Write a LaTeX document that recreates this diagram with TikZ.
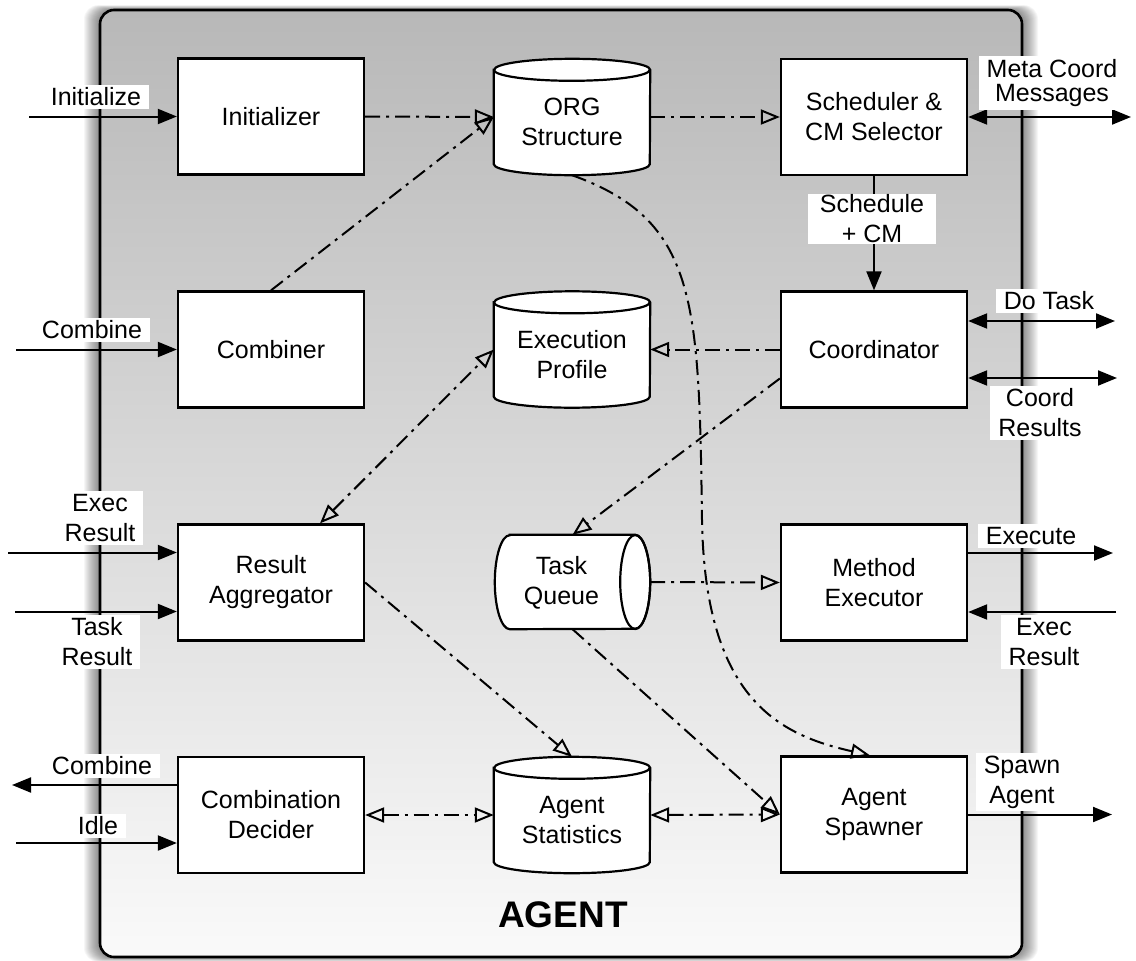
\documentclass[tikz,border=0pt]{standalone}
\usepackage{fontspec}
\setmainfont{Liberation Sans}
\usetikzlibrary{arrows.meta}
\definecolor{panelTop}{RGB}{184,184,184}
\definecolor{panelBot}{RGB}{250,250,250}
\tikzset{
  openhead/.tip={Triangle[open, length=19pt, width=15pt]},
  solidhead/.tip={Triangle[length=19pt, width=15pt]},
}
\newcommand\drawstore[1]{%
  \draw[cyl] ([yshift=-11pt]#1.north west) -- ([yshift=11pt]#1.south west)
    arc[start angle=180, end angle=360, x radius=78pt, y radius=11pt]
    -- ([yshift=-11pt]#1.north east)
    arc[start angle=0, end angle=180, x radius=78pt, y radius=11pt] -- cycle;
  \draw[line width=2.2pt] ([yshift=-11pt]#1.north west)
    arc[start angle=180, end angle=360, x radius=78pt, y radius=11pt];
}
\begin{document}
\begin{tikzpicture}[x=1pt, y=1pt,
  font=\fontsize{25}{30}\selectfont,
  block/.style={draw, fill=white, line width=2.3pt, minimum width=186pt,
    minimum height=116pt, align=center, inner sep=0pt},
  store/.style={minimum width=156pt, minimum height=116pt, inner sep=0pt},
  storetext/.style={align=center, inner sep=0pt},
  cyl/.style={draw, fill=white, line width=2.2pt},
  tag/.style={fill=white, align=center, inner xsep=8pt, inner ysep=3pt},
  flow/.style={line width=2pt, dash pattern=on 15pt off 6pt on 3pt off 6pt},
  sig/.style={line width=2pt},
]
\useasboundingbox (0,0) rectangle (1136,-961);

% soft shadow around the agent panel
\foreach \i in {1,...,16}{
  \fill[black, opacity=0.035, rounded corners=14pt]
    (100-\i,-10+0.3*\i) rectangle (1022+\i,-957-0.3*\i);
}
% agent panel
\draw[line width=2.6pt, rounded corners=14pt, top color=panelTop, bottom color=panelBot]
  (100,-10) rectangle (1022,-957);

% components
\node[block] (init)  at (271,-116.5) {Initializer};
\node[block] (sched) at (874,-117)   {Scheduler \&\\CM Selector};
\node[block] (comb)  at (271,-349.5) {Combiner};
\node[block] (coord) at (874,-349.5) {Coordinator};
\node[block] (ra)    at (271,-582.5) {Result\\Aggregator};
\node[block] (mexec) at (874,-582.5) {Method\\Executor};
\node[block] (cdec)  at (271,-815)   {Combination\\Decider};
\node[block] (spawn) at (874,-814.5) {Agent\\Spawner};

% data stores
\node[store] (org)   at (572,-117)   {};
\node[store] (ep)    at (572,-349.5) {};
\node[store] (stats) at (572,-815)   {};
\drawstore{org}
\drawstore{ep}
\drawstore{stats}
\node[storetext] (orgt)   at ([yshift=-5pt]org.center)   {ORG\\Structure};
\node[storetext] (ept)    at ([yshift=-5pt]ep.center)    {Execution\\Profile};
\node[storetext] (statst) at ([yshift=-5pt]stats.center) {Agent\\Statistics};

% task queue (horizontal store)
\node[minimum width=155pt, minimum height=94pt, inner sep=0pt] (tq) at (572.5,-582) {};
\draw[cyl] ([xshift=15pt]tq.north west) -- ([xshift=-15pt]tq.north east)
  arc[start angle=90, end angle=-90, x radius=15pt, y radius=47pt]
  -- ([xshift=15pt]tq.south west)
  arc[start angle=270, end angle=90, x radius=15pt, y radius=47pt] -- cycle;
\draw[line width=2.2pt] ([xshift=-15pt]tq.east) ellipse [x radius=15pt, y radius=47pt];
\node[storetext] (tqt) at ([xshift=-11pt,yshift=-1pt]tq.center) {Task\\Queue};

% internal data flows
\coordinate (bend) at (702,-520);
\draw[flow, -openhead] (init.east) -- (org.west);
\draw[flow, -openhead] (comb.north) -- (org.west);
\draw[flow, -openhead] (org.east) -- (sched.west);
\draw[flow, -openhead] (coord.west) -- (ep.east);
\draw[flow, openhead-openhead] ([xshift=49pt]ra.north) -- (ep.west);
\draw[flow, -openhead] ([yshift=-29pt]coord.west) -- (tq.north);
\draw[flow, -openhead] (tq.east) -- (mexec.west);
\draw[flow, -openhead] (org.south) .. controls (697,-220) and (699,-300) .. (bend)
  .. controls (705,-700) and (780,-735) .. ([xshift=-4pt]spawn.north);
\draw[flow, -openhead] (ra.east) -- (stats.north);
\draw[flow, -openhead] (tq.south) -- (spawn.west);
\draw[flow, openhead-openhead] (cdec.east) -- (stats.west);
\draw[flow, openhead-openhead] (stats.east) -- (spawn.west);

% control link
\draw[sig, -solidhead] (sched.south) -- (coord.north);
\node[tag, inner xsep=12pt, inner ysep=1pt] (lsched) at (872,-219) {Schedule\\+ CM};

% external interface: free ends
\coordinate (initsrc)  at (29,-116.5);
\coordinate (combsrc)  at (16,-349.5);
\coordinate (exsrc)    at (8,-552.5);
\coordinate (trsrc)    at (15,-611.5);
\coordinate (cobdst)   at (12,-785);
\coordinate (idlesrc)  at (16,-843);
\coordinate (metaend)  at (1131,-117);
\coordinate (doend)    at (1115,-321);
\coordinate (crend)    at (1117,-378);
\coordinate (exedst)   at (1113,-553);
\coordinate (exrsrc)   at (1116,-612);
\coordinate (spdst)    at (1112,-814.5);

\draw[sig, -solidhead] (initsrc) -- (init.west);
\draw[sig, -solidhead] (combsrc) -- (comb.west);
\draw[sig, -solidhead] (exsrc) -- ([yshift=30pt]ra.west);
\draw[sig, -solidhead] (trsrc) -- ([yshift=-29pt]ra.west);
\draw[sig, -solidhead] ([yshift=30pt]cdec.west) -- (cobdst);
\draw[sig, -solidhead] (idlesrc) -- ([yshift=-28pt]cdec.west);
\draw[sig, solidhead-solidhead] (sched.east) -- (metaend);
\draw[sig, solidhead-solidhead] ([yshift=28.5pt]coord.east) -- (doend);
\draw[sig, solidhead-solidhead] ([yshift=-28.5pt]coord.east) -- (crend);
\draw[sig, -solidhead] ([yshift=29.5pt]mexec.east) -- (exedst);
\draw[sig, -solidhead] (exrsrc) -- ([yshift=-29.5pt]mexec.east);
\draw[sig, -solidhead] (spawn.east) -- (spdst);

% interface labels
\node[tag] (linit)  at (96,-97)    {Initialize};
\node[tag] (lcomb)  at (92,-330)   {Combine};
\node[tag] (lexl)   at (100,-518)  {Exec\\Result};
\node[tag] (ltr)    at (97,-642)   {Task\\Result};
\node[tag] (lcout)  at (102,-766)  {Combine};
\node[tag] (lidle)  at (98,-826)   {Idle};
\node[tag, font=\fontsize{25}{24}\selectfont] (lmeta) at (1052,-83) {Meta Coord\\Messages};
\node[tag] (ldo)    at (1049,-301) {Do Task};
\node[tag] (lcr)    at (1040,-413) {Coord\\Results};
\node[tag] (lexe)   at (1031,-536) {Execute};
\node[tag] (lexr)   at (1044,-642) {Exec\\Result};
\node[tag] (lspawn) at (1022,-782) {Spawn\\Agent};

% panel title
\node[font=\fontsize{37}{44}\selectfont\bfseries] (title) at (563,-915) {AGENT};
\end{tikzpicture}
\end{document}
